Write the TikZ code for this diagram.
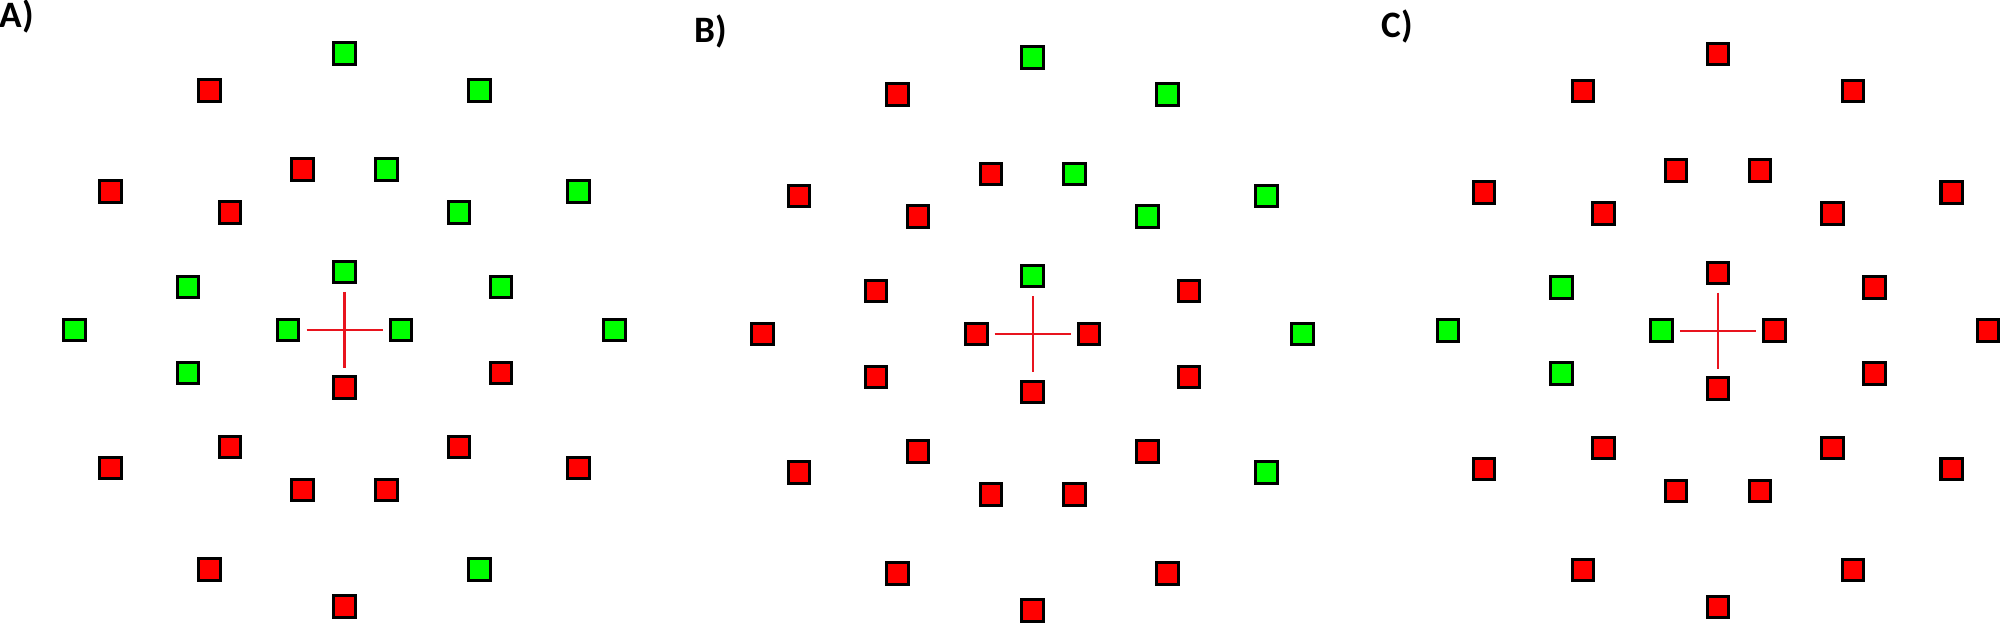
\documentclass[tikz,border=0pt]{standalone}
\usepackage{fontspec}
\setmainfont{Carlito}
\definecolor{sqR}{RGB}{255,0,0}
\definecolor{sqG}{RGB}{0,255,0}
\definecolor{crossred}{RGB}{232,20,30}
\tikzset{
  sq/.style={draw=black, line width=0.03cm, minimum size=0.215cm, inner sep=0pt, outer sep=0pt, rectangle},
  crossline/.style={draw=crossred, line width=0.022cm},
  panellabel/.style={anchor=base west, inner sep=0pt, font=\fontsize{10.6}{12}\selectfont\bfseries}
}
\newcommand\drawpanel[6]{%
  % #1 name, #2 cx, #3 cy, #4 outer colours, #5 middle colours, #6 inner colours
  \foreach \c [count=\k from 0] in {#4} {
    \pgfmathsetmacro\ang{30*\k}
    \node[sq, fill=sq\c] (#1-o\k) at ({#2+270*cos(\ang)}, {#3-276.5*sin(\ang)}) {};
  }
  \foreach \c [count=\k from 0] in {#5} {
    \pgfmathsetmacro\ang{15+30*\k}
    \node[sq, fill=sq\c] (#1-m\k) at ({#2+162*cos(\ang)}, {#3-165.9*sin(\ang)}) {};
  }
  \foreach \c [count=\k from 0] in {#6} {
    \pgfmathsetmacro\ang{90*\k}
    \node[sq, fill=sq\c] (#1-i\k) at ({#2+56.4*cos(\ang)}, {#3-57.8*sin(\ang)}) {};
  }
  \coordinate (#1-c) at (#2,#3);
  \coordinate (#1-cl) at (#2-38,#3);
  \coordinate (#1-cr) at (#2+38,#3);
  \coordinate (#1-ct) at (#2,#3-38);
  \coordinate (#1-cb) at (#2,#3+38);
  \draw[crossline] (#1-cl) -- (#1-cr);
  \draw[crossline] (#1-ct) -- (#1-cb);
}
\begin{document}
\begin{tikzpicture}[x=0.01cm,y=-0.01cm]
\useasboundingbox[fill=white] (0,0) rectangle (2000,623);
\drawpanel{A}{344.5}{329.8}{G,G,G,G,R,R,G,R,R,R,G,R}{G,G,G,R,R,G,G,R,R,R,R,R}{G,G,G,R}
\drawpanel{B}{1032.7}{334}{G,G,G,G,R,R,R,R,R,R,R,G}{R,G,G,R,R,R,R,R,R,R,R,R}{R,G,R,R}
\drawpanel{C}{1717.9}{330.6}{R,R,R,R,R,R,G,R,R,R,R,R}{R,R,R,R,R,G,G,R,R,R,R,R}{R,R,G,R}
\node[panellabel] (labA) at (-1,27) {A)};
\node[panellabel] (labB) at (694,42) {B)};
\node[panellabel] (labC) at (1381,37) {C)};
\end{tikzpicture}
\end{document}
